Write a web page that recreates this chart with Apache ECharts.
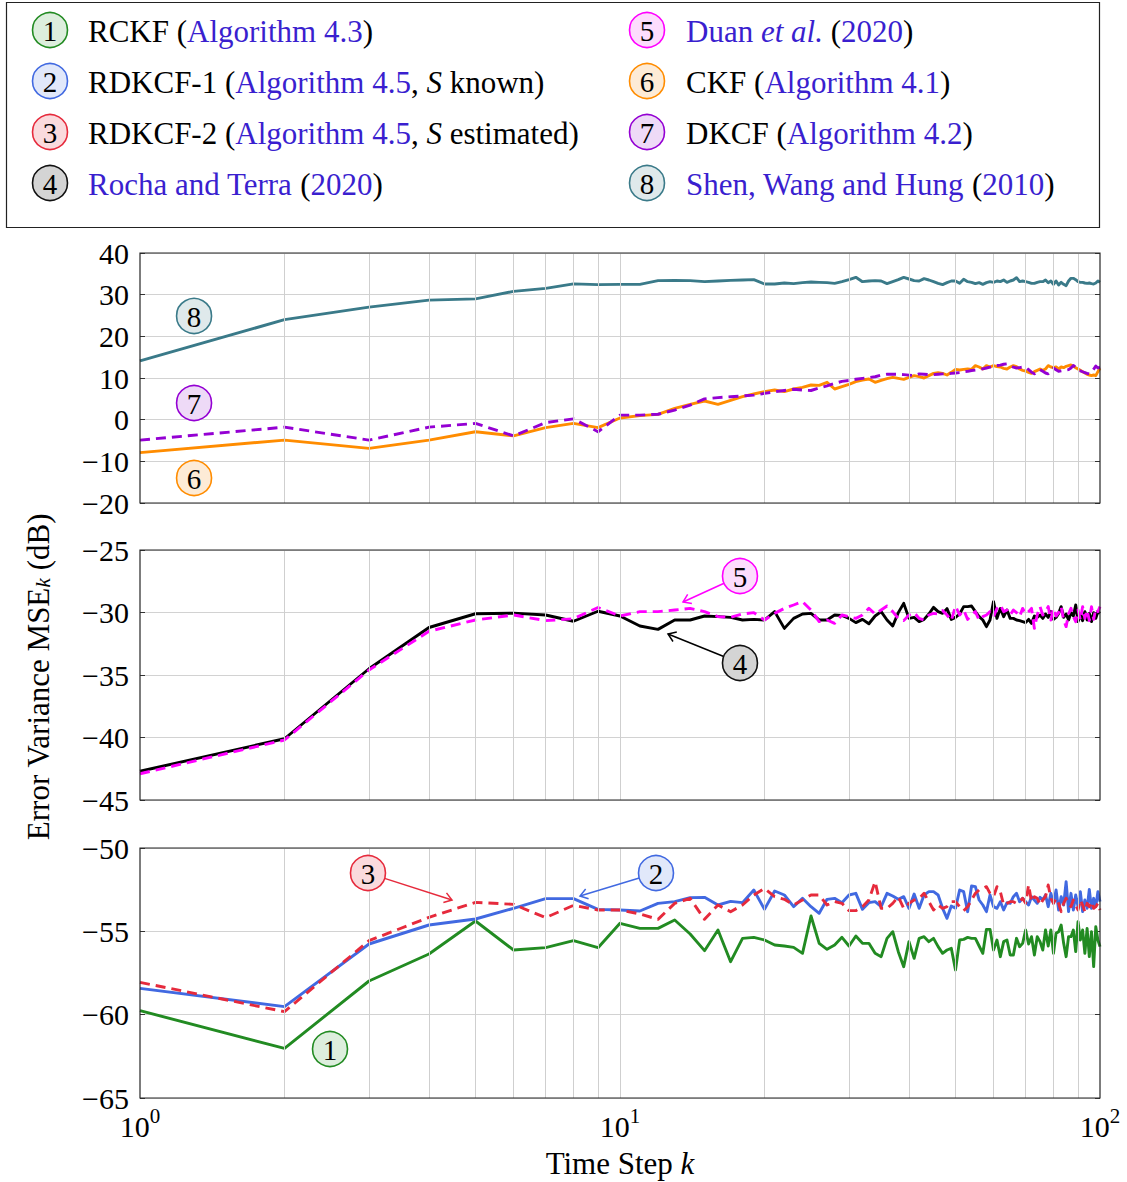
<!DOCTYPE html>
<html>
<head>
<meta charset="utf-8">
<script src="https://cdn.jsdelivr.net/npm/echarts@6/dist/echarts.min.js"></script>
<style>
  html, body { margin: 0; padding: 0; background: #ffffff; }
  #chart { width: 1127px; height: 1182px; }
</style>
</head>
<body>
<div id="chart"></div>
<script>
// ---- data -------------------------------------------------------------
// time steps k = 1 .. 100
const steps = Array.from({ length: 100 }, (_, i) => i + 1);

// error variance MSE_k (dB) per filter
const rckf = [-59.76,-62.02,-57.98,-56.36,-54.38,-56.12,-55.98,-55.56,-55.98,-54.52,
-54.82,-54.82,-54.32,-55.16,-56.16,-54.92,-56.82,-55.42,-55.36,-55.52,
-55.82,-55.88,-55.96,-56.32,-54.08,-55.72,-56.08,-55.82,-55.36,-55.88,
-55.28,-55.72,-55.72,-56.32,-56.52,-55.42,-55.02,-56.22,-57.12,-55.62,
-56.62,-55.42,-55.32,-55.62,-55.42,-55.92,-56.32,-56.12,-56.02,-57.32,
-55.52,-55.48,-55.36,-55.42,-55.42,-55.88,-56.32,-54.88,-54.88,-56.12,
-55.52,-56.52,-55.62,-55.52,-56.42,-56.42,-55.42,-55.92,-55.72,-54.92,
-55.76,-55.32,-56.42,-55.32,-55.62,-56.12,-54.92,-55.88,-54.92,-56.32,
-55.12,-55.02,-54.62,-55.72,-56.52,-55.32,-55.32,-54.92,-56.22,-54.42,
-55.52,-54.92,-56.32,-54.82,-56.52,-55.02,-57.12,-54.72,-55.52,-55.92];

const rdkcf1 = [-58.42,-59.52,-55.76,-54.62,-54.26,-53.62,-53.04,-53.04,-53.68,-53.72,
-53.78,-53.32,-53.22,-52.98,-52.96,-53.42,-53.20,-53.28,-52.52,-53.68,
-52.58,-52.82,-53.52,-53.02,-53.52,-53.92,-53.08,-53.02,-53.28,-52.82,
-52.72,-53.68,-53.28,-53.22,-53.52,-52.72,-52.88,-53.08,-52.92,-53.62,
-52.76,-53.62,-52.82,-52.62,-52.62,-52.82,-53.62,-54.22,-53.48,-53.62,
-52.52,-52.62,-53.82,-52.28,-52.32,-53.12,-53.42,-53.82,-52.82,-53.52,
-53.62,-53.22,-53.72,-53.28,-53.32,-52.92,-52.72,-53.22,-53.02,-53.22,
-53.42,-52.92,-53.12,-53.32,-52.96,-53.12,-52.82,-53.52,-52.72,-53.32,
-52.52,-53.72,-52.92,-53.42,-52.02,-53.82,-52.72,-53.72,-52.82,-53.52,
-52.62,-53.82,-53.12,-53.62,-52.48,-53.62,-53.02,-53.52,-52.62,-53.22];

const rdkcf2 = [-58.06,-59.82,-55.56,-54.16,-53.26,-53.38,-54.18,-53.44,-53.72,-53.72,
-53.96,-54.28,-53.32,-53.02,-54.28,-53.42,-53.82,-53.42,-52.82,-52.42,
-52.92,-53.08,-53.42,-53.12,-52.82,-52.82,-53.42,-53.22,-53.32,-53.76,
-53.76,-53.52,-53.12,-52.02,-53.62,-53.62,-53.32,-52.92,-53.62,-53.32,
-53.12,-53.02,-52.72,-53.22,-53.72,-53.42,-53.62,-53.52,-53.22,-53.22,
-53.52,-53.76,-53.52,-53.12,-52.72,-52.52,-52.42,-52.32,-52.72,-52.92,
-52.32,-52.62,-53.42,-53.32,-53.22,-53.22,-53.32,-53.22,-53.02,-53.32,
-52.22,-53.22,-52.92,-53.02,-53.42,-53.12,-52.92,-52.22,-53.02,-53.32,
-53.02,-53.32,-53.82,-53.32,-53.02,-53.32,-53.52,-53.12,-53.42,-53.72,
-53.12,-53.42,-53.82,-53.32,-53.52,-53.22,-53.62,-53.52,-53.32,-53.72];

const rochaTerra = [-42.70,-40.10,-34.50,-31.20,-30.10,-30.05,-30.20,-30.70,-29.90,-30.28,
-31.08,-31.35,-30.60,-30.60,-30.28,-30.33,-30.39,-30.60,-30.55,-30.60,
-29.93,-31.27,-30.47,-30.12,-30.07,-30.60,-30.60,-30.20,-30.23,-30.47,
-30.81,-30.55,-30.90,-30.28,-29.93,-30.60,-31.08,-30.01,-29.27,-30.47,
-30.39,-30.73,-30.55,-30.12,-29.59,-29.93,-30.07,-29.69,-30.55,-30.39,
-30.12,-29.53,-29.53,-29.48,-29.93,-30.33,-30.60,-31.13,-30.60,-29.13,
-30.47,-29.67,-30.33,-29.80,-30.47,-30.47,-30.60,-30.65,-30.73,-30.81,
-30.55,-30.87,-30.28,-30.39,-30.20,-30.47,-30.12,-30.39,-29.93,-30.55,
-30.39,-30.07,-29.53,-30.39,-30.12,-30.60,-30.01,-30.28,-29.40,-30.73,
-30.20,-30.65,-29.93,-30.60,-30.07,-30.73,-30.01,-30.47,-29.93,-30.07];

const duan = [-42.90,-40.20,-34.60,-31.50,-30.60,-30.20,-30.65,-30.50,-29.60,-30.28,
-29.93,-29.93,-29.80,-29.67,-29.93,-30.33,-30.39,-30.12,-30.01,-30.60,
-30.07,-29.67,-29.40,-29.13,-29.80,-30.73,-30.60,-30.87,-30.20,-30.33,
-30.47,-30.20,-29.67,-30.12,-29.80,-29.48,-29.93,-30.47,-30.65,-30.20,
-30.01,-30.47,-30.60,-30.20,-30.07,-30.12,-29.85,-30.20,-30.65,-29.48,
-30.20,-29.80,-30.55,-30.20,-29.93,-30.60,-30.33,-30.20,-29.93,-30.33,
-29.67,-29.40,-29.93,-29.80,-30.20,-29.80,-30.01,-30.33,-29.67,-30.12,
-29.93,-29.67,-31.27,-30.20,-29.53,-30.20,-29.93,-29.53,-30.60,-29.67,
-30.28,-30.01,-29.53,-30.60,-31.13,-30.12,-29.67,-30.33,-30.73,-29.80,
-30.60,-29.53,-30.47,-29.80,-30.65,-29.53,-30.55,-29.67,-29.93,-29.53];

const ckf = [-7.90,-4.90,-6.90,-4.90,-2.90,-3.90,-1.90,-0.90,-1.90,0.40,
0.96,1.28,2.72,3.68,4.48,3.68,4.64,5.52,6.16,6.72,
7.12,6.72,7.36,7.76,8.32,8.24,8.96,7.36,7.92,8.48,
9.12,9.52,9.76,8.96,9.44,9.84,10.16,9.92,9.68,10.16,
10.56,10.32,10.00,10.56,11.12,11.28,11.12,10.72,11.36,12.08,
11.92,12.08,12.16,12.08,12.96,12.64,12.16,12.96,12.64,12.96,
12.72,12.64,12.32,12.16,12.64,12.96,12.72,12.16,11.84,11.68,
11.36,11.12,11.52,11.84,12.16,11.84,12.16,12.96,12.64,12.48,
12.64,12.16,12.64,12.48,12.80,12.96,13.12,12.80,12.48,12.16,
11.84,11.52,11.20,10.88,10.72,10.56,10.72,10.56,11.52,12.32];

const dkcf = [-4.90,-1.80,-4.90,-1.80,-0.90,-3.90,-0.70,0.20,-2.90,1.10,
1.10,1.30,2.30,3.50,5.00,5.30,5.50,5.70,5.90,6.30,
6.70,7.00,7.30,7.10,7.00,7.60,8.10,8.70,9.20,9.40,
9.70,9.90,10.10,10.30,10.70,10.90,10.90,10.90,10.80,10.70,
10.60,11.00,10.90,10.80,10.80,10.90,11.00,11.00,11.10,11.20,
11.30,11.50,11.60,11.80,11.90,12.00,12.20,12.40,12.60,12.80,
13.00,13.10,13.30,13.40,13.00,12.60,12.40,12.50,12.60,12.60,
12.00,11.40,11.00,11.50,12.00,11.60,11.20,11.00,11.70,12.40,
12.00,11.60,11.70,11.80,11.90,12.00,12.40,13.00,12.60,11.90,
11.70,11.50,11.30,11.10,11.00,11.50,12.10,12.90,12.40,12.60];

const shenWangHung = [14.10,24.00,27.00,28.70,29.00,30.80,31.50,32.60,32.40,32.48,
32.48,33.36,33.44,33.36,33.12,33.28,33.44,33.52,33.60,32.56,
32.56,32.80,32.64,32.88,33.04,32.96,32.88,32.72,33.12,33.60,
34.16,33.12,33.28,33.36,33.28,32.64,33.12,33.60,34.16,33.76,
33.36,33.28,33.84,33.52,33.12,32.72,32.40,32.88,33.28,33.28,
32.72,33.68,33.12,32.96,32.64,32.88,32.48,32.88,33.12,32.96,
33.28,33.12,33.52,32.96,33.28,33.52,34.08,33.12,33.28,33.12,
32.96,32.72,32.72,32.96,33.12,33.12,33.52,32.88,33.28,32.48,
33.28,32.32,32.96,32.48,32.16,33.28,33.92,33.92,33.60,33.12,
32.96,32.96,32.80,32.72,32.80,32.64,32.56,32.80,33.28,32.96];

// legend entries (numbered as in the plot annotations)
const legendLabels = [
  '{t|RCKF (}{l|Algorithm 4.3}{t|)}',
  '{t|RDKCF-1 (}{l|Algorithm 4.5}{t|, }{i|S}{t| known)}',
  '{t|RDKCF-2 (}{l|Algorithm 4.5}{t|, }{i|S}{t| estimated)}',
  '{l|Rocha and Terra }{t|(}{l|2020}{t|)}',
  '{l|Duan }{li|et al.}{l| }{t|(}{l|2020}{t|)}',
  '{t|CKF (}{l|Algorithm 4.1}{t|)}',
  '{t|DKCF (}{l|Algorithm 4.2}{t|)}',
  '{l|Shen, Wang and Hung }{t|(}{l|2010}{t|)}'
];

// y-axis ranges per panel: [min, max, interval]
const yRanges = [[-20, 40, 10], [-45, -25, 5], [-65, -50, 5]];
// vertical grid / minor tick positions on the log time axis
const gridSteps = [2, 3, 4, 5, 6, 7, 8, 9, 10, 20, 30, 40, 50, 60, 70, 80, 90];

// ---- styling ------------------------------------------------------------
const FONT = '"Liberation Serif", "Times New Roman", serif';
const FS = 31;        // legend / titles
const TFS = 30;       // tick labels
const NFS = 29;       // numbers inside the badges
const LINK = '#3a1fcf';
const COLORS = ['#228b22', '#4169e1', '#e62a3c', '#000000', '#ff00ff', '#ff8c00', '#9400d3', '#3a7a89'];
const TINTS  = ['#ddeedd', '#e1e8fa', '#fadadd', '#d4d4d4', '#fddcfd', '#fdebd6', '#eedaf7', '#dfe9eb'];

const PLOT = { left: 140, width: 960, height: 250 };
const TOPS = [253, 550, 848];

const chart = echarts.init(document.getElementById('chart'), null, { renderer: 'svg', width: 1127, height: 1182 });

function lineSeries(name, values, g, idx, dashed) {
  return {
    name, type: 'line', xAxisIndex: g, yAxisIndex: g,
    data: steps.map((k, i) => [k, values[i]]),
    symbol: 'none', silent: true, z: 3,
    lineStyle: { color: COLORS[idx], width: 2.9, type: dashed ? [10, 6] : 'solid', join: 'round' }
  };
}

function gridLineSeries(g) {
  return {
    type: 'line', xAxisIndex: g, yAxisIndex: g, data: [], z: 1, silent: true,
    markLine: {
      silent: true, symbol: ['none', 'none'], label: { show: false },
      lineStyle: { color: '#cfcfcf', width: 1, type: 'solid' },
      emphasis: { disabled: true },
      data: gridSteps.map(k => ({ xAxis: k }))
    }
  };
}

const minus = v => (v < 0 ? '\u2212' + Math.abs(v) : String(v));
const tickStyle = { show: true, inside: true, length: 5, lineStyle: { color: '#333', width: 1 } };

// bottom time axes (one per panel, labels only on the last) plus mirrored top axes for ticks
const bottomX = TOPS.map((_, g) => ({
  type: 'log', logBase: 10, min: 1, max: 100, gridIndex: g, position: 'bottom',
  axisLine: { show: false }, splitLine: { show: false },
  axisTick: Object.assign({ customValues: gridSteps }, tickStyle),
  axisLabel: g === 2 ? {
    show: true, margin: 7, color: '#000',
    formatter: v => '{b|10}{s|' + Math.round(Math.log10(v)) + '}',
    rich: {
      b: { fontFamily: FONT, fontSize: TFS, color: '#000', lineHeight: 36, verticalAlign: 'bottom' },
      s: { fontFamily: FONT, fontSize: 21, color: '#000', lineHeight: 21, verticalAlign: 'top' }
    }
  } : { show: false },
  name: g === 2 ? 'Time Step {i|k}' : '',
  nameLocation: 'middle', nameGap: 50,
  nameTextStyle: {
    fontFamily: FONT, fontSize: FS, color: '#000',
    rich: { i: { fontFamily: FONT, fontSize: FS, fontStyle: 'italic', color: '#000' } }
  }
}));
const topX = TOPS.map((_, g) => ({
  type: 'log', logBase: 10, min: 1, max: 100, gridIndex: g, position: 'top',
  axisLine: { show: false }, splitLine: { show: false }, axisLabel: { show: false },
  axisTick: Object.assign({ customValues: gridSteps }, tickStyle)
}));

const leftY = yRanges.map(([min, max, interval], g) => ({
  type: 'value', gridIndex: g, min, max, interval, position: 'left',
  axisLine: { show: false },
  axisTick: tickStyle,
  splitLine: { show: true, lineStyle: { color: '#d2d2d2', width: 1 } },
  axisLabel: { margin: 11, fontFamily: FONT, fontSize: TFS, color: '#000', formatter: minus }
}));
const rightY = yRanges.map(([min, max, interval], g) => ({
  type: 'value', gridIndex: g, min, max, interval, position: 'right',
  axisLine: { show: false }, splitLine: { show: false }, axisLabel: { show: false },
  axisTick: tickStyle
}));

const option = {
  animation: false,
  backgroundColor: '#ffffff',
  grid: TOPS.map(top => ({ left: PLOT.left, width: PLOT.width, top, height: PLOT.height, show: false })),
  xAxis: bottomX.concat(topX),
  yAxis: leftY.concat(rightY),
  series: [
    gridLineSeries(0), gridLineSeries(1), gridLineSeries(2),
    lineSeries('CKF', ckf, 0, 5, false),
    lineSeries('DKCF', dkcf, 0, 6, true),
    lineSeries('Shen, Wang and Hung (2010)', shenWangHung, 0, 7, false),
    lineSeries('Rocha and Terra (2020)', rochaTerra, 1, 3, false),
    lineSeries('Duan et al. (2020)', duan, 1, 4, true),
    lineSeries('RCKF', rckf, 2, 0, false),
    lineSeries('RDKCF-1', rdkcf1, 2, 1, false),
    lineSeries('RDKCF-2', rdkcf2, 2, 2, true)
  ]
};
chart.setOption(option);

// ---- frames, legend, annotations ----------------------------------------
const graphics = [];

TOPS.forEach(top => graphics.push({
  type: 'rect', silent: true, z: 50,
  shape: { x: PLOT.left, y: top, width: PLOT.width, height: PLOT.height },
  style: { fill: 'none', stroke: '#262626', lineWidth: 1.2 }
}));

const FNT = FS + 'px ' + FONT;
const legendRich = {
  t: { font: FNT, fill: '#000000' },
  i: { font: 'italic ' + FNT, fill: '#000000' },
  l: { font: FNT, fill: LINK },
  li: { font: 'italic ' + FNT, fill: LINK }
};

function badge(cx, cy, idx) {
  return [
    { type: 'circle', silent: true, z: 60, shape: { cx, cy, r: 17.5 },
      style: { fill: TINTS[idx], stroke: COLORS[idx] === '#000000' ? '#111' : COLORS[idx], lineWidth: 1.6 } },
    { type: 'text', silent: true, z: 61, x: cx, y: cy + 1,
      style: { text: String(idx + 1), font: NFS + 'px ' + FONT, fill: '#000', align: 'center', verticalAlign: 'middle' } }
  ];
}

// legend box
graphics.push({ type: 'rect', silent: true, z: 50, shape: { x: 6.5, y: 2.5, width: 1093, height: 225 },
  style: { fill: '#fff', stroke: '#222', lineWidth: 1.2 } });
legendLabels.forEach((label, idx) => {
  const col = idx < 4 ? 0 : 1;
  const row = idx % 4;
  const cy = 30 + 51 * row;
  const cx = col === 0 ? 50 : 647;
  graphics.push(...badge(cx, cy, idx));
  graphics.push({ type: 'text', silent: true, z: 61, x: col === 0 ? 88 : 686, y: cy + 1,
    style: { text: label, rich: legendRich, font: FNT, fill: '#000', align: 'left', verticalAlign: 'middle' } });
});

// in-plot callouts: badge position and optional arrow tip, in data coordinates
const callouts = [
  { idx: 7, g: 0, at: [1.296, 24.9] },
  { idx: 6, g: 0, at: [1.296, 4.0] },
  { idx: 5, g: 0, at: [1.296, -14.0] },
  { idx: 4, g: 1, at: [17.78, -27.08], tip: [13.53, -29.16] },
  { idx: 3, g: 1, at: [17.78, -34.04], tip: [12.59, -31.72] },
  { idx: 2, g: 2, at: [2.985, -51.5], tip: [4.467, -53.12] },
  { idx: 1, g: 2, at: [11.885, -51.5], tip: [8.254, -52.88] },
  { idx: 0, g: 2, at: [2.488, -62.06] }
];

callouts.forEach(c => {
  const [cx, cy] = chart.convertToPixel({ gridIndex: c.g }, c.at);
  if (c.tip) {
    const [tx, ty] = chart.convertToPixel({ gridIndex: c.g }, c.tip);
    const dx = tx - cx, dy = ty - cy, len = Math.hypot(dx, dy);
    const ux = dx / len, uy = dy / len;
    const sx = cx + ux * 17.5, sy = cy + uy * 17.5;
    const col = COLORS[c.idx];
    const barb = (ang) => {
      const ca = Math.cos(ang), sa = Math.sin(ang);
      const bx = -(ux * ca - uy * sa), by = -(ux * sa + uy * ca);
      return [tx + bx * 9, ty + by * 9];
    };
    graphics.push({ type: 'line', silent: true, z: 55, shape: { x1: sx, y1: sy, x2: tx, y2: ty },
      style: { stroke: col, lineWidth: 1.5 } });
    graphics.push({ type: 'polyline', silent: true, z: 55,
      shape: { points: [barb(0.6), [tx, ty], barb(-0.6)] },
      style: { stroke: col, lineWidth: 1.5, fill: 'none' } });
  }
  graphics.push(...badge(cx, cy, c.idx));
});

// vertical axis title
graphics.push({ type: 'text', silent: true, z: 61, x: 38, y: 677, rotation: Math.PI / 2,
  style: { text: '{t|Error Variance MSE}{sub|k}{t| (dB)}', font: FNT, fill: '#000',
    align: 'center', verticalAlign: 'middle',
    rich: {
      t: { font: FNT, fill: '#000' },
      sub: { font: 'italic 21px ' + FONT, fill: '#000', verticalAlign: 'bottom', lineHeight: 14 }
    } } });

chart.setOption({ graphic: { elements: graphics } });
</script>
</body>
</html>
